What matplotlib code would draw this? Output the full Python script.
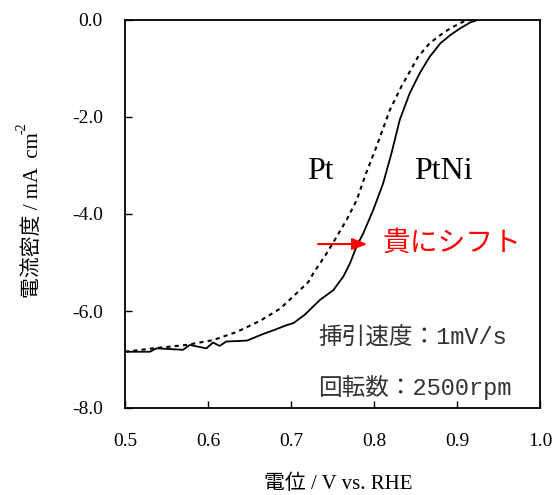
import numpy as np
import matplotlib.pyplot as plt

plt.rcParams['axes.unicode_minus'] = False

# PtNi (solid)
ptni_v = [0.500, 0.530, 0.538, 0.570, 0.578, 0.598, 0.606, 0.614, 0.622, 0.647, 0.667,
          0.680, 0.695, 0.703, 0.717, 0.735, 0.751, 0.763, 0.771, 0.779, 0.787, 0.799,
          0.811, 0.821, 0.831, 0.843, 0.855, 0.867, 0.880, 0.892, 0.904, 0.916, 0.925]
ptni_j = [-6.84, -6.84, -6.77, -6.80, -6.70, -6.77, -6.65, -6.72, -6.63, -6.61, -6.47,
          -6.39, -6.29, -6.25, -6.07, -5.77, -5.57, -5.29, -5.02, -4.67, -4.40, -3.92,
          -3.37, -2.75, -2.06, -1.51, -1.10, -0.76, -0.48, -0.31, -0.17, -0.05, 0.00]

# Pt (dashed)
pt_v = [0.500, 0.534, 0.574, 0.606, 0.635, 0.663, 0.687, 0.707, 0.721, 0.727, 0.743,
        0.755, 0.767, 0.779, 0.790, 0.803, 0.819, 0.833, 0.843, 0.853, 0.867, 0.880,
        0.892, 0.908, 0.916]
pt_j = [-6.84, -6.77, -6.70, -6.60, -6.43, -6.20, -5.95, -5.63, -5.40, -5.22, -4.81,
        -4.47, -4.12, -3.72, -3.18, -2.61, -1.86, -1.37, -1.07, -0.76, -0.48, -0.31,
        -0.17, -0.03, 0.00]

x_ticks = [0.5, 0.6, 0.7, 0.8, 0.9, 1.0]
y_ticks = [0.0, -2.0, -4.0, -6.0, -8.0]

serif = ['Liberation Serif', 'Noto Sans CJK JP']
mono = ['Liberation Mono', 'Noto Sans CJK JP']

fig = plt.figure(figsize=(5.52, 4.95), dpi=100)
ax = fig.add_axes([125 / 552, 1 - 408 / 495, 415 / 552, 388 / 495])

ax.plot(ptni_v, ptni_j, color='black', lw=1.3)
ax.plot(pt_v, pt_j, color='black', lw=1.5, linestyle=(0, (2, 2)))

ax.set_xlim(0.5, 1.0)
ax.set_ylim(-8.0, 0.0)
ax.set_xticks(x_ticks)
ax.set_yticks(y_ticks)
ax.set_xticklabels(['%.1f' % v for v in x_ticks], family=serif, fontsize=14)
ax.set_yticklabels(['%.1f' % v for v in y_ticks], family=serif, fontsize=14)
ax.tick_params(direction='in', length=5, width=1)
ax.tick_params(axis='x', pad=18)
ax.tick_params(axis='y', pad=16)
for s in ax.spines.values():
    s.set_linewidth(1.3)

ax.text(0.736, -3.13, 'Pt', family=serif, fontsize=23, ha='center', va='center')
ax.text(0.884, -3.13, 'PtNi', family=serif, fontsize=23, ha='center', va='center')

ax.annotate('', xy=(0.792, -4.62), xytext=(0.7325, -4.62),
            arrowprops=dict(arrowstyle='-|>,head_length=0.9,head_width=0.35',
                            color='red', lw=1.5, shrinkA=0, shrinkB=0))
ax.text(0.810, -4.62, '貴にシフト', family=serif, fontsize=20, color='red',
        ha='left', va='center')
ax.text(0.7325, -6.56, '挿引速度：1mV/s', family=mono, fontsize=17, color='#333333',
        ha='left', va='center')
ax.text(0.7325, -7.57, '回転数：2500rpm', family=mono, fontsize=17, color='#333333',
        ha='left', va='center')

fig.text(338 / 552, 1 - 484 / 495, '電位 / V vs. RHE', family=serif, fontsize=15,
         ha='center', va='center')
ylab = fig.text(33 / 552, 1 - 298 / 495, '電流密度 / mA  cm', family=serif, fontsize=15,
                rotation=90, ha='center', va='bottom')
fig.canvas.draw()
bb = ylab.get_window_extent().transformed(fig.transFigure.inverted())
fig.text(bb.x0 - 0.002, bb.y1 - 0.004, '-2', family=serif, fontsize=10,
         rotation=90, ha='center', va='bottom')

fig.savefig('out.png', dpi=100)
